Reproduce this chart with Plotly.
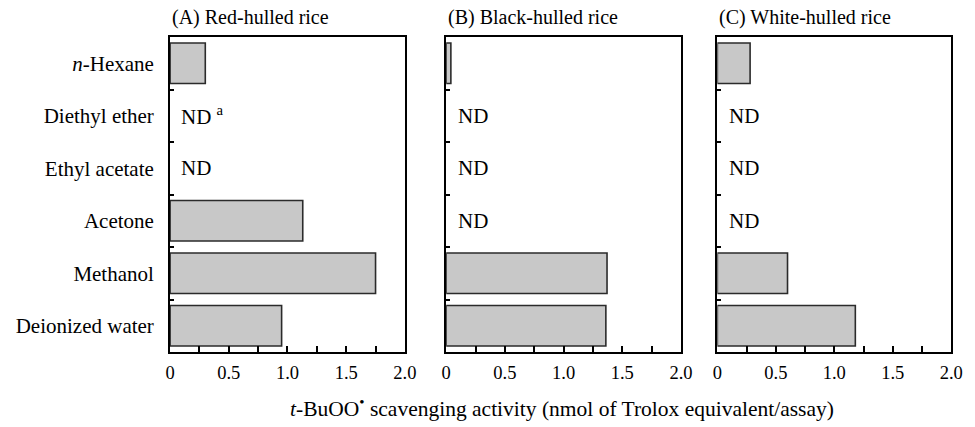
import plotly.graph_objects as go

categories = ["<i>n</i>-Hexane", "Diethyl ether", "Ethyl acetate", "Acetone", "Methanol", "Deionized water"]
panel_titles = ["(A) Red-hulled rice", "(B) Black-hulled rice", "(C) White-hulled rice"]
red_hulled = [0.30, None, None, 1.13, 1.75, 0.95]
black_hulled = [0.04, None, None, None, 1.37, 1.36]
white_hulled = [0.28, None, None, None, 0.60, 1.18]
nd_labels = [
    [None, "ND <sup>a</sup>", "ND", None, None, None],
    [None, "ND", "ND", "ND", None, None],
    [None, "ND", "ND", "ND", None, None],
]
x_tickvals = [0, 0.5, 1.0, 1.5, 2.0]
x_ticktext = ["0", "0.5", "1.0", "1.5", "2.0"]
x_title = "<i>t</i>-BuOO<sup>•</sup> scavenging activity (nmol of Trolox equivalent/assay)"

series = [red_hulled, black_hulled, white_hulled]
W, H = 975, 427
domains_px = [(168, 407), (449, 688), (725, 963)]
top_px, bot_px = 37, 352
FONT = "Liberation Serif, Times New Roman, serif"

fig = go.Figure()
for i, vals in enumerate(series):
    n = "" if i == 0 else str(i + 1)
    fig.add_trace(go.Bar(
        x=vals, y=categories, orientation="h",
        xaxis="x" + n, yaxis="y" + n,
        width=0.77,
        marker=dict(color="#c8c8c8", line=dict(color="#2b2b2b", width=1.6)),
        showlegend=False, hoverinfo="skip",
    ))
    d0, d1 = domains_px[i]
    xa = dict(
        domain=[d0 / W, d1 / W], range=[0, 2], anchor="y" + n,
        showline=True, mirror=True, linecolor="black", linewidth=2,
        ticks="inside", ticklen=6, tickwidth=1.5, tickcolor="black",
        tickvals=x_tickvals, ticktext=x_ticktext,
        minor=dict(ticks="inside", dtick=0.25, ticklen=6, tickwidth=1.5, tickcolor="black"),
        showgrid=False, zeroline=False, fixedrange=True,
        tickfont=dict(family=FONT, size=18.5, color="black"),
        ticklabelstandoff=3,
    )
    ya = dict(
        domain=[1 - bot_px / H, 1 - top_px / H], anchor="x" + n,
        type="category", categoryorder="array", categoryarray=categories,
        autorange="reversed",
        showline=True, mirror=True, linecolor="black", linewidth=2,
        ticks="inside", tickson="boundaries", ticklen=4, tickwidth=1.5, tickcolor="black",
        showgrid=False, zeroline=False, fixedrange=True,
        showticklabels=(i == 0),
        tickfont=dict(family=FONT, size=21, color="black"),
        ticklabelstandoff=10,
    )
    fig.update_layout(**{"xaxis" + n: xa, "yaxis" + n: ya})
    fig.add_annotation(
        x=d0 / W, y=1 - 17 / H, xref="paper", yref="paper",
        text=panel_titles[i], showarrow=False, xanchor="left", yanchor="middle",
        font=dict(family=FONT, size=20, color="black"),
    )
    for cat, lab in zip(categories, nd_labels[i]):
        if lab:
            fig.add_annotation(
                x=0.08, y=cat, xref="x" + n, yref="y" + n, text=lab,
                showarrow=False, xanchor="left", yanchor="middle",
                font=dict(family=FONT, size=21, color="black"),
            )

fig.add_annotation(
    x=567 / W, y=1 - 407 / H, xref="paper", yref="paper",
    text=x_title, showarrow=False, xanchor="center", yanchor="middle",
    font=dict(family=FONT, size=21.5, color="black"),
)

fig.update_layout(
    width=W, height=H,
    margin=dict(l=0, r=0, t=0, b=0),
    paper_bgcolor="white", plot_bgcolor="white",
    bargap=0.23,
)

fig.write_html("out.html")
